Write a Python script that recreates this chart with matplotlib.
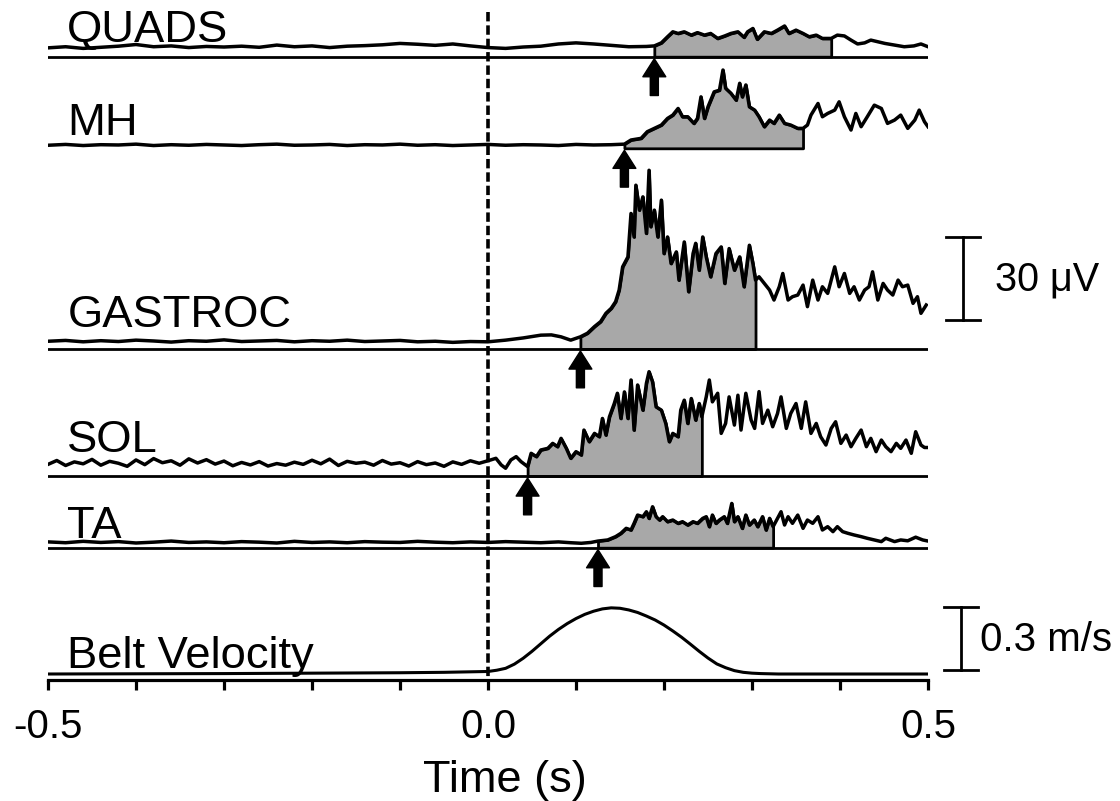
import numpy as np
import matplotlib.pyplot as plt

plt.rcParams['font.family'] = ['Liberation Sans', 'DejaVu Sans']

# EMG traces in uV, belt velocity in m/s.
# each muscle: quiet part on a coarse time base + burst part, onset/offset of the shaded area

quads_t_rest = np.round(np.arange(-0.5, 0.181, 0.02), 3)
quads_rest = [3.2, 3.6, 3.0, 3.4, 3.8, 4.4, 3.6, 3.9, 3.3, 3.7, 3.5, 3.8, 3.4, 4.2, 3.6, 3.9, 3.3, 3.8,
              4.0, 4.3, 4.8, 4.5, 4.1, 4.6, 3.9, 3.3, 3.0, 3.5, 3.8, 4.6, 5.0, 4.6, 4.1, 3.6, 3.7]
quads_t_burst = [0.189, 0.197, 0.204, 0.210, 0.216, 0.223, 0.231, 0.238, 0.246, 0.253, 0.261, 0.269, 0.276,
                 0.284, 0.291, 0.295, 0.301, 0.306, 0.314, 0.322, 0.329, 0.337, 0.342, 0.350, 0.358, 0.365,
                 0.373, 0.380, 0.390, 0.397, 0.405, 0.4125, 0.420, 0.428, 0.435, 0.443, 0.451, 0.462, 0.473,
                 0.484, 0.492, 0.500]
quads_burst = [3.9, 5.0, 7.2, 9.0, 8.4, 9.0, 7.8, 8.7, 7.8, 8.4, 6.6, 7.5, 8.4, 9.0, 7.0, 9.0, 10.2, 6.3,
               9.0, 8.4, 9.6, 11.1, 8.4, 9.6, 8.4, 7.2, 7.8, 6.6, 6.6, 7.8, 7.5, 6.0, 4.6, 5.0, 6.0, 5.4,
               4.8, 4.2, 3.6, 3.9, 4.6, 3.6]
quads_on, quads_off = 0.189, 0.390

mh_t_rest = np.round(np.arange(-0.5, 0.141, 0.02), 3)
mh_rest = [1.1, 1.4, 1.0, 1.3, 1.2, 1.5, 1.0, 1.3, 1.1, 1.4, 1.2, 1.0, 1.3, 1.5, 1.1, 1.2, 1.4, 1.0, 1.3,
           1.2, 1.5, 1.1, 1.3, 1.0, 1.2, 1.4, 1.1, 1.3, 1.2, 1.0, 1.4, 1.2, 1.3]
mh_t_burst = [0.155, 0.1625, 0.174, 0.181, 0.189, 0.197, 0.204, 0.210, 0.216, 0.221, 0.227, 0.234, 0.238,
              0.242, 0.246, 0.250, 0.257, 0.263, 0.267, 0.270, 0.276, 0.282, 0.286, 0.289, 0.293, 0.297,
              0.303, 0.308, 0.314, 0.320, 0.325, 0.331, 0.337, 0.344, 0.352, 0.358, 0.363, 0.367, 0.375,
              0.380, 0.386, 0.394, 0.399, 0.405, 0.4125, 0.418, 0.424, 0.431, 0.439, 0.447, 0.454, 0.462,
              0.469, 0.477, 0.485, 0.490, 0.496, 0.500]
mh_burst = [1.5, 3.0, 3.6, 6.0, 7.2, 8.4, 10.8, 12.0, 14.4, 11.4, 11.4, 9.0, 10.8, 18.6, 10.8, 15.0, 20.4,
            21.0, 28.3, 21.7, 19.9, 17.4, 23.5, 18.6, 22.9, 15.0, 13.8, 11.4, 7.8, 10.2, 9.0, 12.0, 9.0,
            8.4, 7.2, 7.2, 8.4, 12.0, 16.2, 11.4, 12.6, 13.8, 16.8, 11.4, 6.6, 12.6, 7.8, 11.4, 15.6,
            14.4, 9.0, 10.2, 12.0, 7.2, 10.2, 13.8, 9.6, 7.8]
mh_on, mh_off = 0.155, 0.358

gas_t_rest = np.round(np.arange(-0.5, 0.061, 0.02), 3)
gas_rest = [2.8, 3.1, 2.6, 3.0, 2.7, 3.2, 2.9, 2.5, 3.0, 2.8, 3.3, 2.7, 2.9, 3.1, 2.6, 3.0, 2.8, 3.2,
            2.7, 2.9, 3.1, 2.6, 2.8, 2.4, 2.7, 2.6, 3.2, 4.0, 5.0]
gas_t_burst = [0.072, 0.083, 0.094, 0.105, 0.113, 0.121, 0.128, 0.134, 0.140, 0.145, 0.149, 0.153, 0.159,
               0.1625, 0.166, 0.168, 0.172, 0.176, 0.180, 0.183, 0.185, 0.189, 0.193, 0.197, 0.200, 0.204,
               0.208, 0.214, 0.217, 0.223, 0.228, 0.233, 0.236, 0.240, 0.244, 0.248, 0.253, 0.259, 0.265,
               0.269, 0.274, 0.280, 0.286, 0.291, 0.297, 0.301, 0.304, 0.308, 0.314, 0.320, 0.325, 0.331,
               0.335, 0.341, 0.346, 0.352, 0.358, 0.363, 0.369, 0.375, 0.380, 0.386, 0.394, 0.399, 0.405,
               0.411, 0.416, 0.422, 0.428, 0.433, 0.437, 0.443, 0.449, 0.454, 0.460, 0.466, 0.471, 0.477,
               0.483, 0.488, 0.492, 0.498]
gas_burst = [5.1, 4.4, 3.2, 4.4, 5.7, 8.1, 9.9, 12.9, 14.7, 17.1, 21.3, 29.7, 33.3, 49.0, 40.5, 59.2, 50.2,
             55.0, 41.8, 64.6, 44.2, 50.2, 40.5, 53.8, 34.5, 40.5, 30.9, 35.1, 24.9, 38.7, 20.7, 34.5,
             38.2, 28.5, 40.5, 33.3, 26.1, 34.5, 36.9, 23.7, 36.3, 28.5, 33.3, 22.5, 37.5, 30.9, 24.9,
             26.1, 23.7, 21.3, 17.7, 22.5, 27.3, 17.7, 18.9, 19.5, 23.1, 15.3, 24.9, 17.7, 22.5, 20.1,
             29.7, 22.5, 27.3, 20.1, 22.5, 17.7, 21.3, 22.5, 27.9, 17.7, 23.7, 21.3, 19.5, 24.9, 22.5,
             23.1, 16.5, 18.9, 12.9, 15.9]
gas_on, gas_off = 0.105, 0.304

sol_t_rest = np.round(np.arange(-0.5, -0.005, 0.01), 3)
sol_rest = [4.2, 5.6, 3.8, 5.1, 4.4, 6.0, 3.9, 5.3, 4.6, 3.5, 5.8, 4.1, 6.3, 4.8, 5.5, 3.9, 6.2, 4.7, 5.9,
            4.3, 5.4, 3.7, 4.9, 4.0, 5.2, 3.6, 4.5, 3.9, 5.0, 4.2, 5.7, 4.4, 6.1, 3.8, 5.3, 4.6, 5.0, 3.9,
            5.6, 4.3, 4.8, 3.6, 5.2, 4.1, 4.7, 3.5, 5.1, 4.2, 5.5, 4.6]
sol_t_burst = [0.003, 0.009, 0.015, 0.020, 0.026, 0.032, 0.0375, 0.045, 0.049, 0.055, 0.060, 0.068, 0.0735,
               0.079, 0.083, 0.089, 0.094, 0.100, 0.106, 0.109, 0.115, 0.121, 0.1265, 0.130, 0.134, 0.138,
               0.1435, 0.147, 0.151, 0.155, 0.159, 0.1625, 0.166, 0.170, 0.176, 0.180, 0.183, 0.187, 0.191,
               0.197, 0.202, 0.206, 0.210, 0.216, 0.219, 0.223, 0.227, 0.231, 0.236, 0.240, 0.243, 0.248,
               0.2515, 0.255, 0.261, 0.265, 0.270, 0.274, 0.280, 0.284, 0.2875, 0.293, 0.299, 0.303, 0.308,
               0.312, 0.318, 0.3235, 0.329, 0.333, 0.339, 0.344, 0.350, 0.356, 0.361, 0.367, 0.373, 0.378,
               0.384, 0.390, 0.395, 0.401, 0.407, 0.4125, 0.418, 0.424, 0.430, 0.435, 0.441, 0.447, 0.452,
               0.458, 0.464, 0.469, 0.475, 0.481, 0.486, 0.492, 0.496, 0.500]
sol_burst = [5.8, 6.4, 4.0, 2.8, 5.8, 7.0, 5.2, 3.4, 8.2, 7.0, 9.4, 10.0, 11.8, 10.6, 13.6, 10.0, 6.4, 8.8,
             7.6, 16.6, 12.4, 15.4, 14.2, 20.8, 14.8, 21.4, 26.2, 29.9, 20.8, 30.4, 20.8, 34.7, 16.6, 32.9,
             23.8, 33.5, 37.7, 34.0, 25.0, 23.8, 19.0, 12.4, 15.4, 14.2, 23.8, 27.4, 19.0, 28.0, 20.2,
             26.2, 21.4, 28.6, 34.7, 26.8, 29.9, 15.4, 19.0, 28.6, 18.4, 29.2, 16.6, 29.9, 20.2, 17.2,
             30.5, 19.0, 23.8, 17.8, 22.6, 28.6, 17.2, 22.6, 26.2, 17.2, 26.8, 15.4, 19.0, 14.2, 11.2,
             17.2, 19.6, 11.8, 14.8, 10.6, 13.6, 16.6, 10.6, 13.6, 8.8, 13.0, 10.6, 8.8, 11.8, 10.0, 13.0,
             8.2, 16.0, 11.2, 10.3, 10.3]
sol_on, sol_off = 0.045, 0.243

ta_t_rest = np.round(np.arange(-0.5, 0.081, 0.02), 3)
ta_rest = [2.1, 1.8, 2.3, 1.9, 2.2, 1.7, 2.0, 2.4, 1.9, 2.1, 1.8, 2.2, 2.0, 1.7, 2.3, 1.9, 2.1, 1.8, 2.2,
           2.0, 1.9, 2.3, 2.0, 1.8, 2.1, 1.9, 2.2, 2.0, 1.8, 2.1]
ta_t_burst = [0.094, 0.106, 0.117, 0.125, 0.136, 0.145, 0.151, 0.157, 0.1625, 0.166, 0.170, 0.176, 0.180,
              0.183, 0.187, 0.191, 0.195, 0.1985, 0.204, 0.210, 0.216, 0.221, 0.227, 0.233, 0.238, 0.244,
              0.248, 0.2515, 0.255, 0.259, 0.263, 0.2685, 0.272, 0.277, 0.280, 0.284, 0.289, 0.293, 0.297,
              0.3026, 0.3065, 0.312, 0.316, 0.320, 0.324, 0.328, 0.333, 0.337, 0.341, 0.346, 0.352, 0.358,
              0.363, 0.369, 0.375, 0.380, 0.386, 0.392, 0.397, 0.403, 0.409, 0.416, 0.424, 0.431, 0.439,
              0.447, 0.452, 0.462, 0.469, 0.477, 0.486, 0.494, 0.500]
ta_burst = [1.8, 1.6, 1.9, 2.4, 2.8, 4.0, 5.2, 7.0, 6.4, 8.8, 11.8, 11.2, 13.0, 10.6, 14.8, 11.2, 10.0,
            11.2, 9.4, 10.0, 8.8, 9.4, 8.2, 9.4, 8.8, 10.6, 11.2, 7.6, 11.8, 8.8, 10.0, 11.2, 8.8, 16.0,
            9.4, 11.2, 7.0, 11.8, 8.2, 10.0, 7.6, 11.2, 6.4, 10.6, 7.6, 10.0, 13.0, 8.2, 11.2, 8.8, 11.8,
            7.0, 10.0, 8.8, 11.2, 6.4, 7.6, 5.8, 7.6, 5.8, 5.2, 4.6, 4.0, 3.4, 2.8, 2.2, 3.4, 2.2, 2.8,
            2.5, 3.8, 2.8, 2.4]
ta_on, ta_off = 0.125, 0.324

belt_t = [-0.5, -0.3, -0.2, -0.1, -0.05, 0.0, 0.01, 0.02, 0.03, 0.04, 0.05, 0.06, 0.07, 0.08, 0.09, 0.10,
          0.11, 0.12, 0.13, 0.14, 0.15, 0.16, 0.17, 0.18, 0.19, 0.20, 0.21, 0.22, 0.23, 0.24, 0.25, 0.26,
          0.27, 0.28, 0.29, 0.30, 0.31, 0.33, 0.5]
belt_v = [0.0, 0.002, 0.004, 0.006, 0.008, 0.012, 0.018, 0.027, 0.047, 0.075, 0.108, 0.144, 0.180, 0.212,
          0.240, 0.264, 0.284, 0.299, 0.310, 0.315, 0.313, 0.305, 0.293, 0.276, 0.257, 0.233, 0.205,
          0.175, 0.142, 0.108, 0.076, 0.048, 0.030, 0.016, 0.008, 0.004, 0.002, 0.0, 0.0]

# layout (vertical positions are pixel rows from the top of the figure)
UV = 83.0 / 30      # px per uV
MS = 63.0 / 0.3     # px per m/s

muscles = [
    ("QUADS", quads_t_rest, quads_rest, quads_t_burst, quads_burst, quads_on, quads_off, 56.7, 42, True),
    ("MH", mh_t_rest, mh_rest, mh_t_burst, mh_burst, mh_on, mh_off, 148.3, 135, False),
    ("GASTROC", gas_t_rest, gas_rest, gas_t_burst, gas_burst, gas_on, gas_off, 349.0, 327, True),
    ("SOL", sol_t_rest, sol_rest, sol_t_burst, sol_burst, sol_on, sol_off, 476.0, 452, True),
    ("TA", ta_t_rest, ta_rest, ta_t_burst, ta_burst, ta_on, ta_off, 547.7, 538, True),
]

fig = plt.figure(figsize=(11.2, 8.01), dpi=100)
ax = fig.add_axes([48 / 1120, 1 - 680 / 801, 880 / 1120, 680 / 801])
ax.set_xlim(-0.5, 0.5)
ax.set_ylim(680, 0)

lab_x = -0.478
for name, t0, v0, t1, v1, on, off, base, lab_y, has_base in muscles:
    t = np.concatenate([np.asarray(t0, float), np.asarray(t1, float)])
    v = np.concatenate([np.asarray(v0, float), np.asarray(v1, float)])
    y = base - v * UV
    m = (t >= on - 1e-9) & (t <= off + 1e-9)
    ax.fill_between(t[m], base, y[m], facecolor='#a8a8a8', edgecolor='black', lw=2.0, zorder=1)
    if has_base:
        ax.plot([-0.5, 0.5], [base, base], color='black', lw=2.0, zorder=2)
    ax.plot(t, y, color='black', lw=2.5, zorder=3, solid_joinstyle='round')
    ax.text(lab_x, lab_y, name, fontsize=32.7, va='baseline', ha='left')
    ax.annotate('', xy=(on, base + 2), xytext=(0, -26.5), textcoords='offset points',
                arrowprops=dict(arrowstyle='simple,head_length=13,head_width=16.5,tail_width=5.8',
                                mutation_scale=1, color='black', shrinkA=0, shrinkB=0), zorder=4)

# belt velocity
belt_base = 674.0
ax.plot(belt_t, belt_base - np.array(belt_v) * MS, color='black', lw=2.2, zorder=3)
ax.text(lab_x, 668, "Belt Velocity", fontsize=32.7, va='baseline', ha='left')

# perturbation onset
ax.plot([0, 0], [12, 680], color='black', lw=2.6, ls=(0, (2.6, 1.1)), zorder=5)

# scale bars
cap = 17 / 880
xb = (962 - 487) / 880
ax.plot([xb, xb], [320, 320 - 30 * UV], color='black', lw=2.0, clip_on=False)
for yy in (320, 320 - 30 * UV):
    ax.plot([xb - cap, xb + cap], [yy, yy], color='black', lw=2.0, clip_on=False)
ax.text((994 - 487) / 880, 280, "30 \u03bcV", fontsize=28.5, va='center', ha='left')

xb = (960 - 487) / 880
ax.plot([xb, xb], [670, 670 - 0.3 * MS], color='black', lw=2.0, clip_on=False)
for yy in (670, 670 - 0.3 * MS):
    ax.plot([xb - cap, xb + cap], [yy, yy], color='black', lw=2.0, clip_on=False)
ax.text((979 - 487) / 880, 640, "0.3 m/s", fontsize=29, va='center', ha='left')

# axis
for s in ('top', 'left', 'right'):
    ax.spines[s].set_visible(False)
ax.spines['bottom'].set_linewidth(2.3)
ax.set_yticks([])
ticks = np.round(np.arange(-0.5, 0.51, 0.1), 1)
ax.set_xticks(ticks)
ax.set_xticklabels(['-0.5', '', '', '', '', '0.0', '', '', '', '', '0.5'])
ax.tick_params(axis='x', direction='out', length=7.5, width=2.3, pad=13, labelsize=29)
fig.text(505 / 1120, 1 - 792 / 801, "Time (s)", fontsize=32.5, ha='center', va='baseline')

fig.savefig('out.png', dpi=100)
